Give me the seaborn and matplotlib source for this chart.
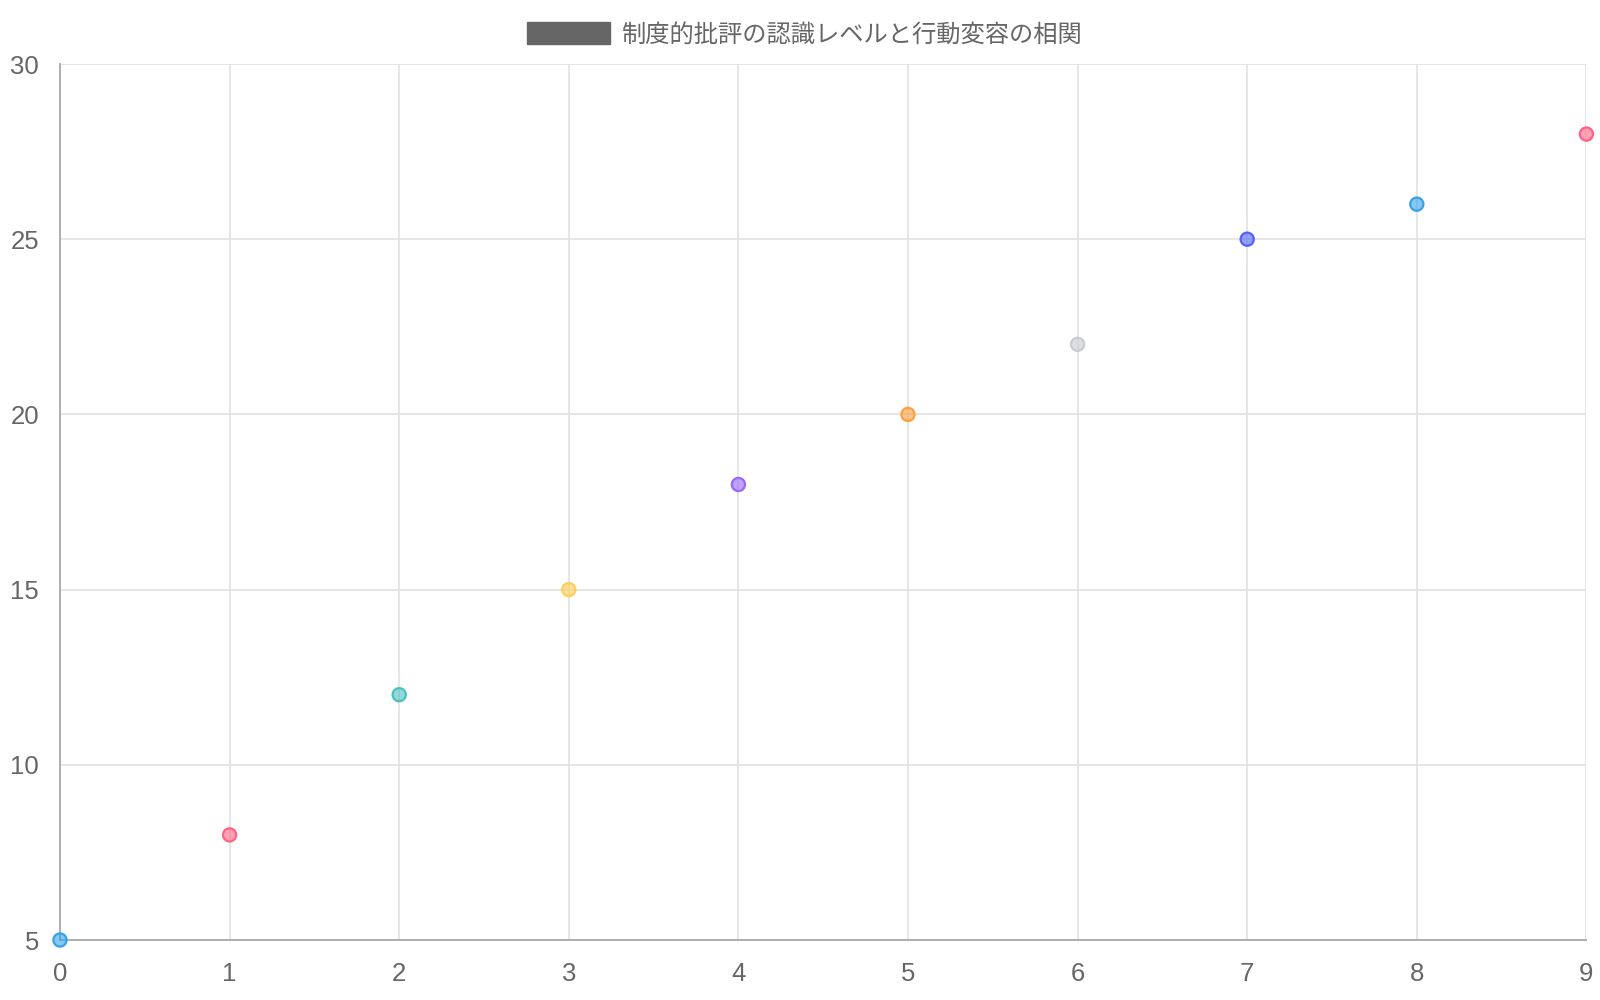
import matplotlib
matplotlib.use("Agg")
import matplotlib.pyplot as plt
import matplotlib.colors as mcolors
from matplotlib.patches import Patch
import seaborn as sns
import pandas as pd

# data
x_vals = [0, 1, 2, 3, 4, 5, 6, 7, 8, 9]
y_vals = [5, 8, 12, 15, 18, 20, 22, 25, 26, 28]
point_colors = ["#36A2EB", "#FF6384", "#4BC0C0", "#FFCE56", "#9966FF",
                "#FF9F40", "#C9CBCF", "#5061FF", "#36A2EB", "#FF6384"]
legend_label = "制度的批評の認識レベルと行動変容の相関"
y_ticks = [5, 10, 15, 20, 25, 30]

sns.set_theme(style="white")
plt.rcParams["font.family"] = ["Liberation Sans", "Noto Sans CJK JP", "DejaVu Sans"]

df = pd.DataFrame({"x": x_vals, "y": y_vals,
                   "pt": [f"p{i}" for i in range(len(x_vals))]})
fill = {f"p{i}": mcolors.to_rgba(c, 0.6) for i, c in enumerate(point_colors)}

fig = plt.figure(figsize=(16, 10), dpi=100)
ax = fig.add_axes([0.0375, 0.06, 0.954, 0.876])

sns.scatterplot(data=df, x="x", y="y", hue="pt", palette=fill, legend=False,
                s=90, edgecolor=point_colors, linewidth=1.6, clip_on=False,
                zorder=3, ax=ax)

ax.set_xlim(0, 9)
ax.set_ylim(5, 30)
ax.set_xticks(x_vals)
ax.set_yticks(y_ticks)
ax.set_xlabel("")
ax.set_ylabel("")
ax.grid(True, color="#e1e1e1", linewidth=1.2)
ax.set_axisbelow(True)
for side in ["top", "right"]:
    ax.spines[side].set_visible(False)
for side in ["left", "bottom"]:
    ax.spines[side].set_color("#a8a8a8")
    ax.spines[side].set_linewidth(1.3)
ax.tick_params(axis="both", colors="#e1e1e1", labelcolor="#666666",
               labelsize=18.5, length=9, width=1.2)
ax.tick_params(axis="x", pad=7)
ax.tick_params(axis="y", pad=6)

handle = Patch(facecolor="#666666", edgecolor="#666666")
fig.legend(handles=[handle], labels=[legend_label], loc="upper center",
           bbox_to_anchor=(0.503, 0.997), frameon=False, fontsize=17.5,
           labelcolor="#666666", handlelength=3.4, handleheight=1.0,
           handletextpad=0.5, borderpad=0.3)

fig.savefig("out.png", dpi=100, facecolor="white")
plt.close(fig)
